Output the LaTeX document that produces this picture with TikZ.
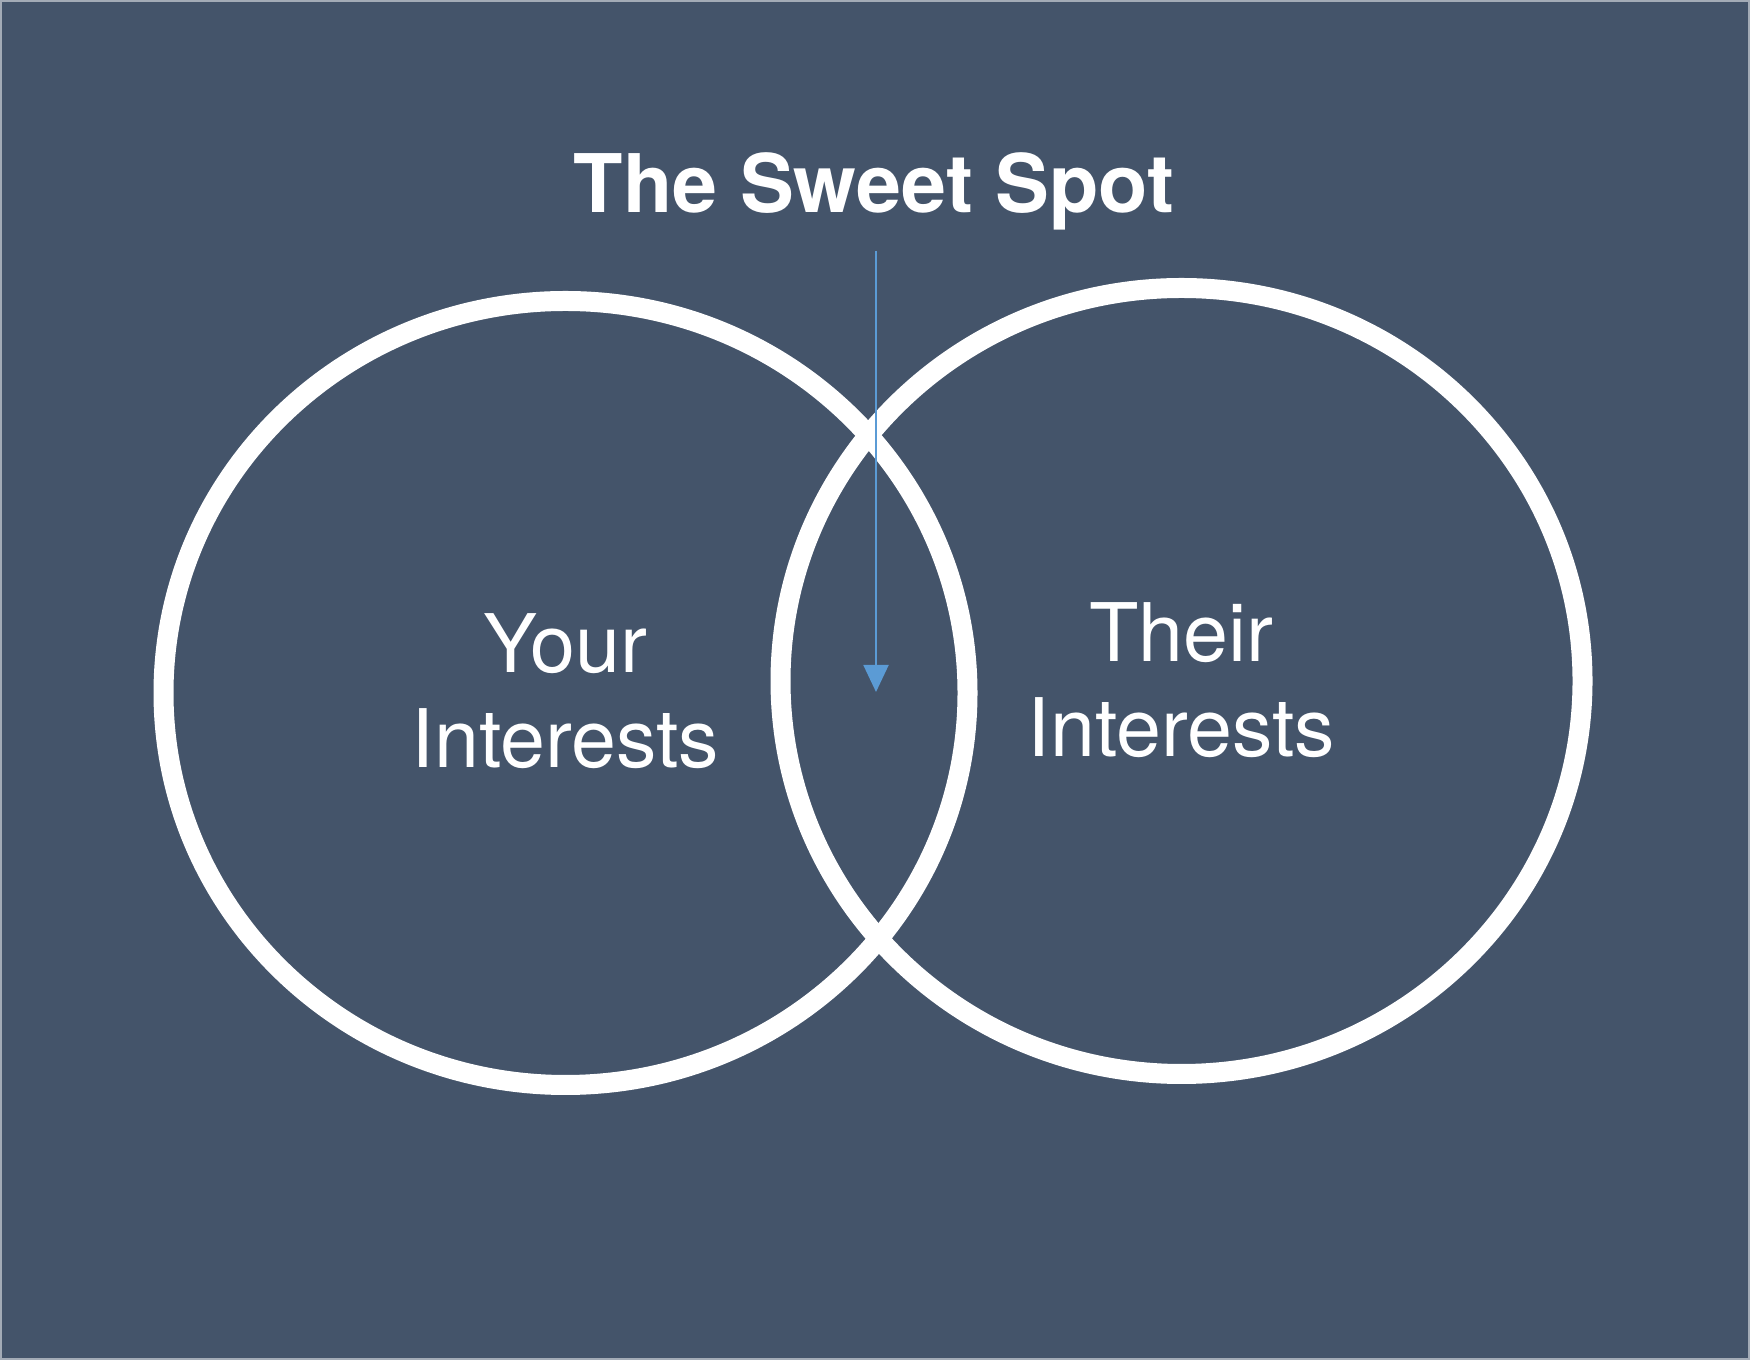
\documentclass[tikz,border=0pt]{standalone}
\usepackage{fontspec}
\setmainfont{TeX Gyre Heros}
\usepackage{tikz}
\usetikzlibrary{positioning, shapes.geometric, arrows.meta}
\definecolor{slate}{HTML}{44546A}
\definecolor{edgegray}{HTML}{A3ABB6}
\definecolor{pointer}{HTML}{5B9BD5}
\tikzset{
  ring/.style={draw=white, ellipse, inner sep=0pt, line width=0.2cm},
  interest/.style={text=white, align=center, font=\fontsize{23}{27.3}\selectfont},
}
\begin{document}
\begin{tikzpicture}
                \fill[slate] (0,0) rectangle (17.5,13.6);
                \draw[edgegray, line width=0.02cm] (0.01,0.01) rectangle (17.49,13.59);
                \useasboundingbox (0,0) rectangle (17.5,13.6);

                \node[ring, minimum width=8.04cm, minimum height=7.84cm] (you) at (5.655,6.67) {};
                \node[ring, minimum width=8.02cm, minimum height=7.86cm] (them) at (11.815,6.79) {};
                \node[interest, anchor=base] (yourtext) at ([yshift=-0.75cm]you.center) {Your\\Interests};
                \node[interest, anchor=base] (theirtext) at ([yshift=-0.76cm]them.center) {Their\\Interests};

                \node[text=white, anchor=base, font=\fontsize{23}{27}\selectfont\bfseries] (title) at (8.74,11.47) {The Sweet Spot};
                \coordinate (start) at (8.76,11.09);
                \coordinate (spot) at (8.76,6.68);
                \draw[pointer, line width=0.02cm, -{Triangle[width=0.25cm, length=0.27cm]}] (start) -- (spot);

            \end{tikzpicture}
\end{document}
